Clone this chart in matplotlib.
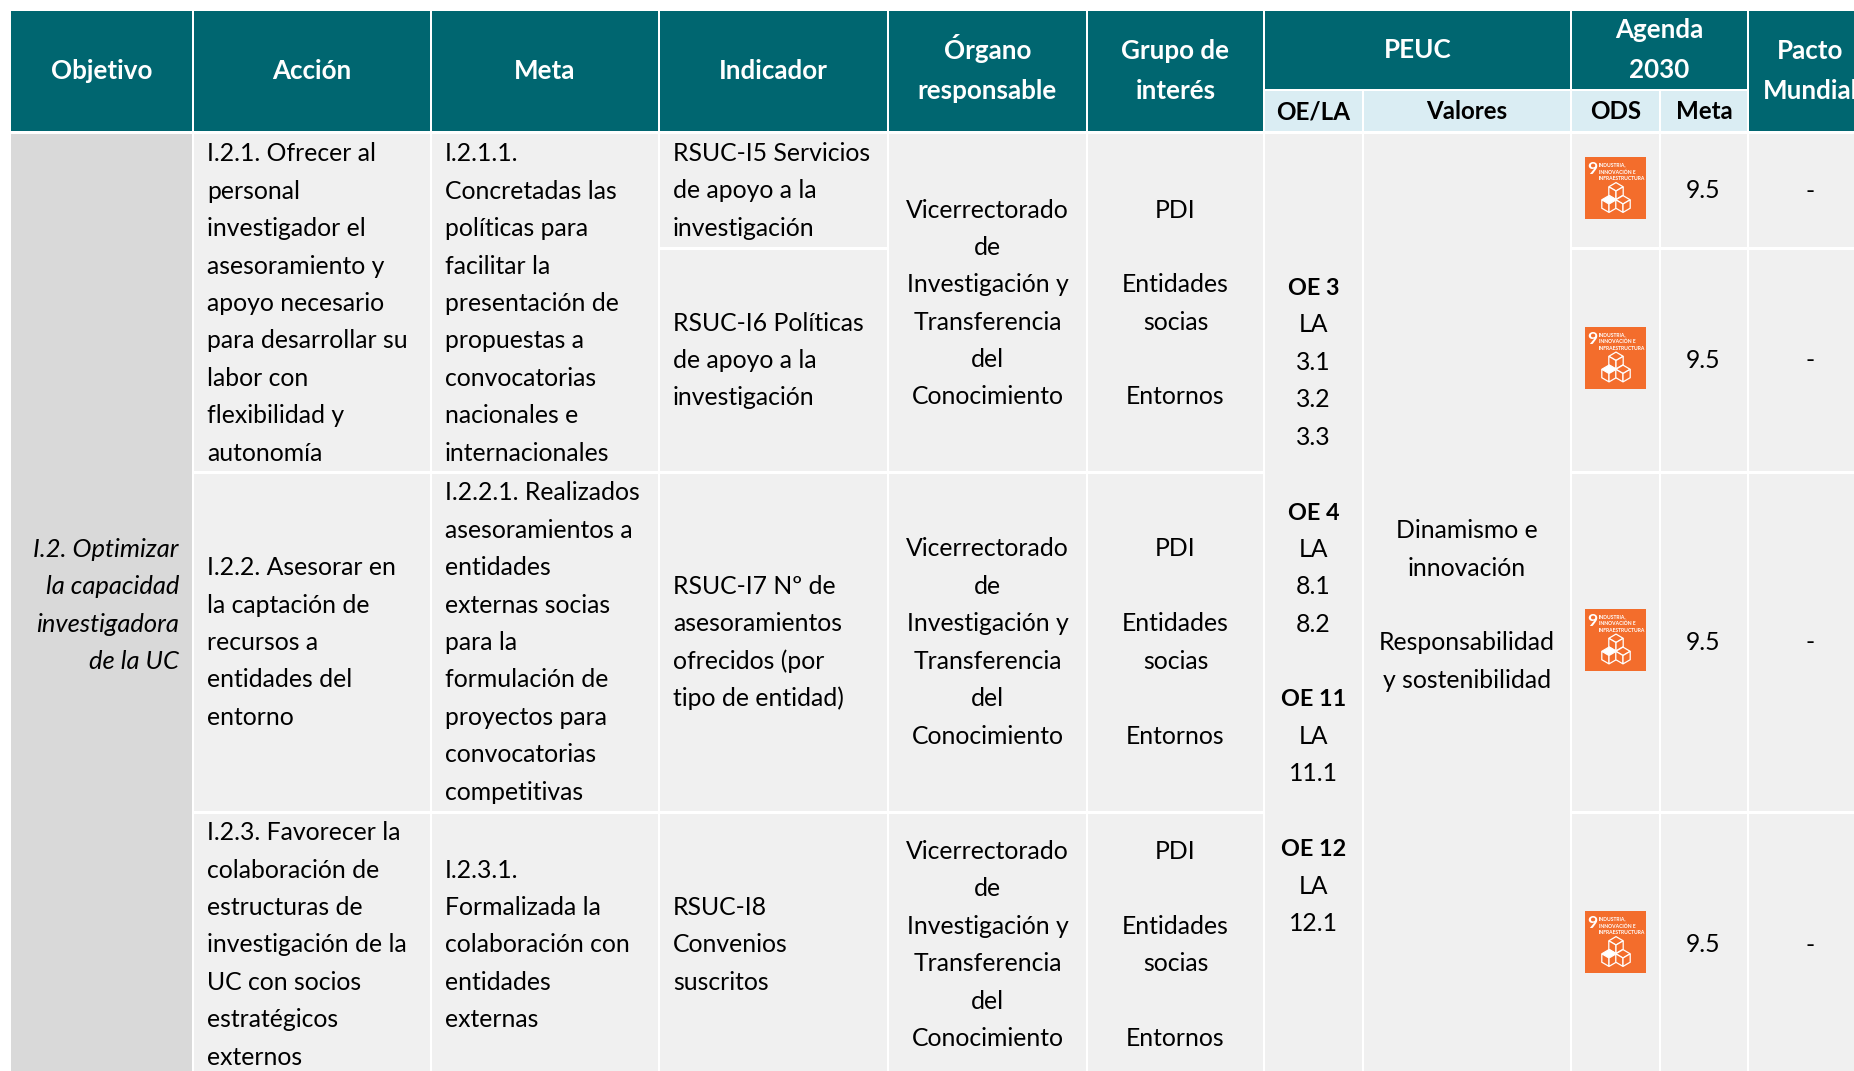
import matplotlib
matplotlib.use("Agg")
import matplotlib.pyplot as plt
from matplotlib.patches import Rectangle, Polygon

FONT = "Lato"
TEAL = "#006670"
LIGHT = "#F0F0F0"
GREY = "#D9D9D9"
SUB = "#DAEDF3"
ORANGE = "#F36D2C"

LINE_H = 37.4
BODY_SIZE = 17.8
HEAD_SIZE = 18.7

# ── table content ────────────────────────────────────────────────────────────
header_single = ["Objetivo", "Acción", "Meta", "Indicador"]
header_double = [["Órgano", "responsable"], ["Grupo de", "interés"]]
peuc_title = "PEUC"
agenda_title = ["Agenda", "2030"]
pacto_title = ["Pacto", "Mundial"]
sub_headers = ["OE/LA", "Valores", "ODS", "Meta"]

objetivo = ["I.2. Optimizar", "la capacidad", "investigadora", "de la UC"]

acciones = [
    ["I.2.1. Ofrecer al", "personal", "investigador el", "asesoramiento y", "apoyo necesario",
     "para desarrollar su", "labor con", "flexibilidad y", "autonomía"],
    ["I.2.2. Asesorar en", "la captación de", "recursos a", "entidades del", "entorno"],
    ["I.2.3. Favorecer la", "colaboración de", "estructuras de", "investigación de la",
     "UC con socios", "estratégicos", "externos"],
]
metas = [
    ["I.2.1.1.", "Concretadas las", "políticas para", "facilitar la", "presentación de",
     "propuestas a", "convocatorias", "nacionales e", "internacionales"],
    ["I.2.2.1. Realizados", "asesoramientos a", "entidades", "externas socias", "para la",
     "formulación de", "proyectos para", "convocatorias", "competitivas"],
    ["I.2.3.1.", "Formalizada la", "colaboración con", "entidades", "externas"],
]
indicadores = [
    ["RSUC-I5 Servicios", "de apoyo a la", "investigación"],
    ["RSUC-I6 Políticas", "de apoyo a la", "investigación"],
    ["RSUC-I7 Nº de", "asesoramientos", "ofrecidos (por", "tipo de entidad)"],
    ["RSUC-I8", "Convenios", "suscritos"],
]
organo = ["Vicerrectorado", "de", "Investigación y", "Transferencia", "del", "Conocimiento"]
grupo = ["PDI", "", "Entidades", "socias", "", "Entornos"]
oe_la = ["OE 3", "LA", "3.1", "3.2", "3.3", "",
         "OE 4", "LA", "8.1", "8.2", "",
         "OE 11", "LA", "11.1", "",
         "OE 12", "LA", "12.1"]
valores = ["Dinamismo e", "innovación", "", "Responsabilidad", "y sostenibilidad"]
meta_ods = ["9.5", "9.5", "9.5", "9.5"]
pacto = ["-", "-", "-", "-"]
icon_lines = ["INDUSTRIA,", "INNOVACIÓN E", "INFRAESTRUCTURA"]

# column edges in pixels (left, right)
c_obj = (11, 192)
c_acc = (194, 430)
c_met = (432, 658)
c_ind = (660, 887)
c_org = (889, 1086)
c_gru = (1088, 1263)
c_oe = (1265, 1362)
c_val = (1364, 1570)
c_ods = (1572, 1659)
c_mod = (1661, 1747)
c_pac = (1749, 1880)

HEAD_TOP, HEAD_BOT = 11, 131
SPLIT_A, SPLIT_B = 89, 91
BODY_TOP, BODY_BOT = 134, 1080
rows = [(134, 471), (474, 811), (814, 1080)]
ind_rows = [(134, 247), (250, 471), (474, 811), (814, 1080)]
text_centers = [302, 641, 943.5]
ind_centers = [189.5, 359, 641, 943.5]

fig = plt.figure(figsize=(18.54, 10.71), dpi=100, facecolor="white")
ax = fig.add_axes([0, 0, 1, 1])
ax.set_xlim(0, 1854)
ax.set_ylim(1071, 0)
ax.axis("off")


def box(xs, ys, color):
    ax.add_patch(Rectangle((xs[0], ys[0]), xs[1] - xs[0], ys[1] - ys[0],
                           facecolor=color, edgecolor="none", lw=0))


def lines(txt, x, cy, ha="center", color="black", weight="normal", style="normal",
          size=BODY_SIZE, step=LINE_H, bold_oe=False):
    # one text per line so the spacing stays the same as the table
    n = len(txt)
    for i, t in enumerate(txt):
        if not t:
            continue
        oe = bold_oe and t.startswith("OE")
        y = cy + (i - (n - 1) / 2) * step + 9
        ax.text(x, y, t, ha=ha, va="baseline", color=color,
                fontweight="bold" if oe else weight, fontstyle=style,
                fontsize=16.8 if oe else size, family=FONT)


def mid(c):
    return (c[0] + c[1]) / 2


def cube(cx, cy, filled=False):
    w, h = 7.2, 4.2
    top = [(cx, cy - 2 * h), (cx + w, cy - h), (cx, cy), (cx - w, cy - h)]
    left = [(cx - w, cy - h), (cx, cy), (cx, cy + 2 * h), (cx - w, cy + h)]
    right = [(cx + w, cy - h), (cx, cy), (cx, cy + 2 * h), (cx + w, cy + h)]
    ax.add_patch(Polygon(top, closed=True, facecolor="white" if filled else ORANGE,
                         edgecolor="white", lw=0.9))
    for f in (left, right):
        ax.add_patch(Polygon(f, closed=True, facecolor=ORANGE, edgecolor="white", lw=0.9))


def ods_icon(cx, cy):
    x0, y0 = cx - 30.5, cy - 31
    box((x0, x0 + 61), (y0, y0 + 62), ORANGE)
    ax.text(x0 + 7, y0 + 17.5, "9", ha="center", va="baseline", color="white",
            fontsize=12.5, fontweight="bold", family=FONT)
    for i, t in enumerate(icon_lines):
        ax.text(x0 + 14, y0 + 9.5 + i * 7, t, ha="left", va="baseline", color="white",
                fontsize=3.6, fontweight="bold", family=FONT)
    cube(x0 + 31, y0 + 34)
    cube(x0 + 24, y0 + 47, filled=True)
    cube(x0 + 38, y0 + 47)


# ── header ───────────────────────────────────────────────────────────────────
for c, t in zip([c_obj, c_acc, c_met, c_ind], header_single):
    box(c, (HEAD_TOP, HEAD_BOT), TEAL)
    lines([t], mid(c), 70, color="white", weight="bold", size=HEAD_SIZE)
for c, t in zip([c_org, c_gru], header_double):
    box(c, (HEAD_TOP, HEAD_BOT), TEAL)
    lines(t, mid(c), 70, color="white", weight="bold", size=HEAD_SIZE, step=40)

box((c_oe[0], c_val[1]), (HEAD_TOP, SPLIT_A), TEAL)
lines([peuc_title], (c_oe[0] + c_val[1]) / 2, 49, color="white", weight="bold", size=HEAD_SIZE)
box((c_ods[0], c_mod[1]), (HEAD_TOP, SPLIT_A), TEAL)
lines(agenda_title, (c_ods[0] + c_mod[1]) / 2, 49, color="white", weight="bold", size=HEAD_SIZE, step=40)
box(c_pac, (HEAD_TOP, HEAD_BOT), TEAL)
lines(pacto_title, 1810, 70, color="white", weight="bold", size=HEAD_SIZE, step=40)

for c, t in zip([c_oe, c_val, c_ods, c_mod], sub_headers):
    box(c, (SPLIT_B, HEAD_BOT), SUB)
    lines([t], mid(c), 110, weight="bold", size=17.4)

# ── body ─────────────────────────────────────────────────────────────────────
box(c_obj, (BODY_TOP, BODY_BOT), GREY)
lines(objetivo, c_obj[1] - 13, 604, ha="right", style="italic", size=18.4)

for r, cy, a, m, in zip(rows, text_centers, acciones, metas):
    box(c_acc, r, LIGHT)
    box(c_met, r, LIGHT)
    box(c_org, r, LIGHT)
    box(c_gru, r, LIGHT)
    lines(a, c_acc[0] + 13, cy, ha="left")
    lines(m, c_met[0] + 13, cy, ha="left")
    lines(organo, mid(c_org), cy)
    lines(grupo, mid(c_gru), cy)

box(c_oe, (BODY_TOP, BODY_BOT), LIGHT)
box(c_val, (BODY_TOP, BODY_BOT), LIGHT)
lines(oe_la, mid(c_oe), 604, bold_oe=True)
lines(valores, mid(c_val), 604)

for r, cy, ind, me, p in zip(ind_rows, ind_centers, indicadores, meta_ods, pacto):
    box(c_ind, r, LIGHT)
    box(c_ods, r, LIGHT)
    box(c_mod, r, LIGHT)
    box(c_pac, r, LIGHT)
    lines(ind, c_ind[0] + 13, cy, ha="left")
    ods_icon(mid(c_ods), cy - 1.5)
    lines([me], mid(c_mod) - 1, cy)
    lines([p], 1810, cy)

fig.savefig("out.png", dpi=100, facecolor="white")
